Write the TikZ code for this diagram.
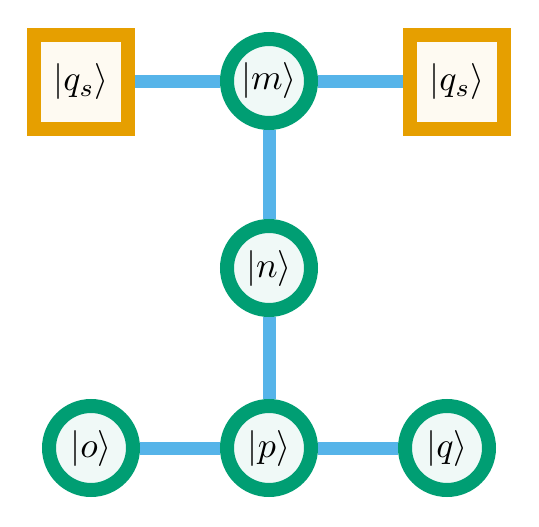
\documentclass[tikz,border=0pt]{standalone}
\usepackage{graphicx}
\usetikzlibrary{backgrounds}
\definecolor{qgreen}{HTML}{009E73}
\definecolor{qorange}{HTML}{E69F00}
\definecolor{qblue}{HTML}{56B4E9}
\newcommand{\bigket}[1]{\scalebox{3.6}{$|#1\rangle$}}
\tikzset{
  qnode/.style={circle, draw=qgreen, fill=qgreen!6, line width=14pt, minimum size=84pt, inner sep=0pt},
  snode/.style={rectangle, draw=qorange, fill=qorange!5, line width=14pt, minimum size=94pt, inner sep=0pt},
  link/.style={draw=qblue, line width=13pt}
}
\begin{document}
\begin{tikzpicture}[x=1pt,y=-1pt]
\useasboundingbox (0,0) rectangle (539,527);
\node[snode] (sl) at (81,82) {\bigket{q_s}};
\node[qnode] (m) at (269,81) {\bigket{m}};
\node[snode] (sr) at (457,82) {\bigket{q_s}};
\node[qnode] (n) at (269,268) {\bigket{n}};
\node[qnode] (o) at (91,448) {\bigket{o}};
\node[qnode] (p) at (269,448) {\bigket{p}};
\node[qnode] (q) at (447,448) {\bigket{q}};
\begin{scope}[on background layer]
\draw[link] (sl.east) -- (sl.east -| m.west);
\draw[link] (sr.west) -- (sr.west -| m.east);
\draw[link] (m) -- (n);
\draw[link] (n) -- (p);
\draw[link] (o) -- (p);
\draw[link] (p) -- (q);
\end{scope}
\end{tikzpicture}
\end{document}
